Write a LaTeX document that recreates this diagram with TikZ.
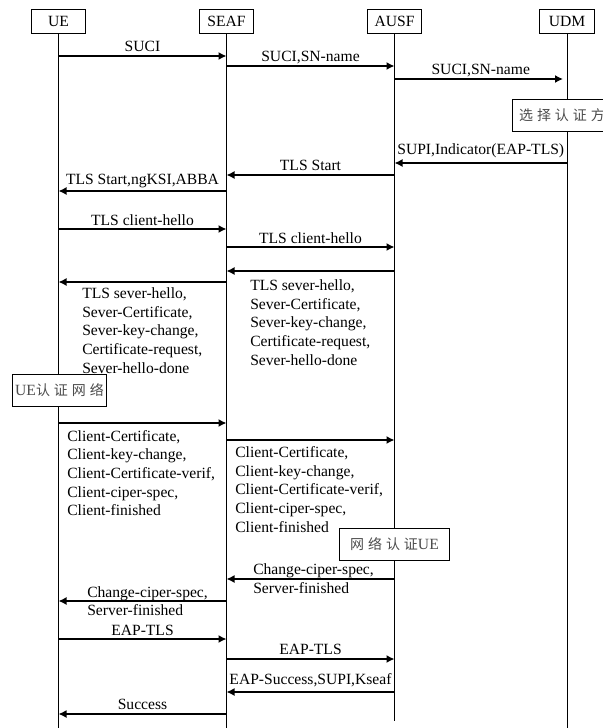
\documentclass[tikz,border=0pt]{standalone}
\usepackage{fontspec}
\setmainfont{Liberation Serif}
\newfontfamily\zhfont[LetterSpace=28]{Noto Sans CJK SC}
\usetikzlibrary{arrows.meta}
\tikzset{
  ent/.style={draw, line width=.75pt, fill=white, minimum width=41pt, minimum height=18pt, inner sep=0pt},
  life/.style={line width=.75pt},
  msg/.style={line width=1.1pt, -{Latex[length=6pt,width=6pt]}},
  lab/.style={above, inner sep=1pt, text height=8pt, text depth=2pt},
  blk/.style={anchor=west, align=left, inner sep=0pt},
  note/.style={draw, line width=.75pt, fill=white, inner sep=0pt, minimum height=24pt, text=black!70,
    font=\zhfont\fontsize{10.5pt}{12pt}\selectfont}
}

\begin{document}
\begin{tikzpicture}[x=.75pt, y=-.75pt, font=\fontsize{11.7pt}{14pt}\selectfont]
\useasboundingbox (0,0) rectangle (603,728);
\clip (0,0) rectangle (603,728);
%entities
\foreach \nm/\lab/\x in {ue/UE/58.5, seaf/SEAF/226.5, ausf/AUSF/394.5, udm/UDM/567}{
	\node[ent] (\nm) at (\x,21) {\lab};
	}
%lifelines
\foreach \nm/\yend in {ue/728, seaf/728, ausf/721, udm/728}{
	\draw[life] (\nm.south) -- (\nm |- 0,\yend);
	}
%notes
\node[note, anchor=west, inner xsep=5pt] (sel) at (512,115) {选择认证方法};
\node[note, minimum width=71pt] (chkue) at (59.5,390.5) {{\rmfamily\fontsize{11.7pt}{14pt}\selectfont UE}认证网络};
\node[note, minimum width=83pt] (chknet) at (394.5,544) {网络认证{\rmfamily\fontsize{11.7pt}{14pt}\selectfont UE}};
%messages
\draw[msg] (ue |- 0,56) -- node[lab] (m1) {SUCI} (seaf |- 0,56);
\draw[msg] (seaf |- 0,66) -- node[lab] (m2) {SUCI,SN-name} (ausf |- 0,66);
\draw[msg, shorten >=3pt] (ausf |- 0,79) -- node[lab] (m3) {SUCI,SN-name} (udm |- 0,79);
\draw[msg] (udm |- 0,163) -- node[lab, yshift=3pt] (m4) {SUPI,Indicator(EAP-TLS)} (ausf |- 0,163);
\draw[msg] (ausf |- 0,175) -- node[lab] (m5) {TLS Start} (seaf |- 0,175);
\draw[msg] (seaf |- 0,191) -- node[lab, yshift=1pt] (m6) {TLS Start,ngKSI,ABBA} (ue |- 0,191);
\draw[msg] (ue |- 0,229) -- node[lab, yshift=-1pt] (m7) {TLS client-hello} (seaf |- 0,229);
\draw[msg] (seaf |- 0,247) -- node[lab, yshift=-1pt] (m8) {TLS client-hello} (ausf |- 0,247);
\draw[msg] (ausf |- 0,271) -- (seaf |- 0,271);
\draw[msg] (seaf |- 0,282) -- (ue |- 0,282);
\node[blk] (b1) at (250,322.5) {TLS sever-hello,\\Sever-Certificate,\\Sever-key-change,\\Certificate-request,\\Sever-hello-done};
\node[blk] (b2) at (82,330.5) {TLS sever-hello,\\Sever-Certificate,\\Sever-key-change,\\Certificate-request,\\Sever-hello-done};
\draw[msg] (ue |- 0,423) -- (seaf |- 0,423);
\draw[msg] (seaf |- 0,440) -- (ausf |- 0,440);
\node[blk] (b3) at (67,473) {Client-Certificate,\\Client-key-change,\\Client-Certificate-verif,\\Client-ciper-spec,\\Client-finished};
\node[blk] (b4) at (235,489.5) {Client-Certificate,\\Client-key-change,\\Client-Certificate-verif,\\Client-ciper-spec,\\Client-finished};
\draw[msg] (ausf |- 0,579) -- (seaf |- 0,579);
\node[blk] (b5) at (253,578.5) {Change-ciper-spec,\\Server-finished};
\draw[msg] (seaf |- 0,601) -- (ue |- 0,601);
\node[blk] (b6) at (87,601) {Change-ciper-spec,\\Server-finished};
\draw[msg] (ue |- 0,639) -- node[lab, yshift=-1pt] (m9) {EAP-TLS} (seaf |- 0,639);
\draw[msg] (seaf |- 0,659) -- node[lab] (m10) {EAP-TLS} (ausf |- 0,659);
\draw[msg] (ausf |- 0,692) -- node[lab, yshift=2pt] (m11) {EAP-Success,SUPI,Kseaf} (seaf |- 0,692);
\draw[msg] (seaf |- 0,714) -- node[lab] (m12) {Success} (ue |- 0,714);
\end{tikzpicture}
\end{document}
